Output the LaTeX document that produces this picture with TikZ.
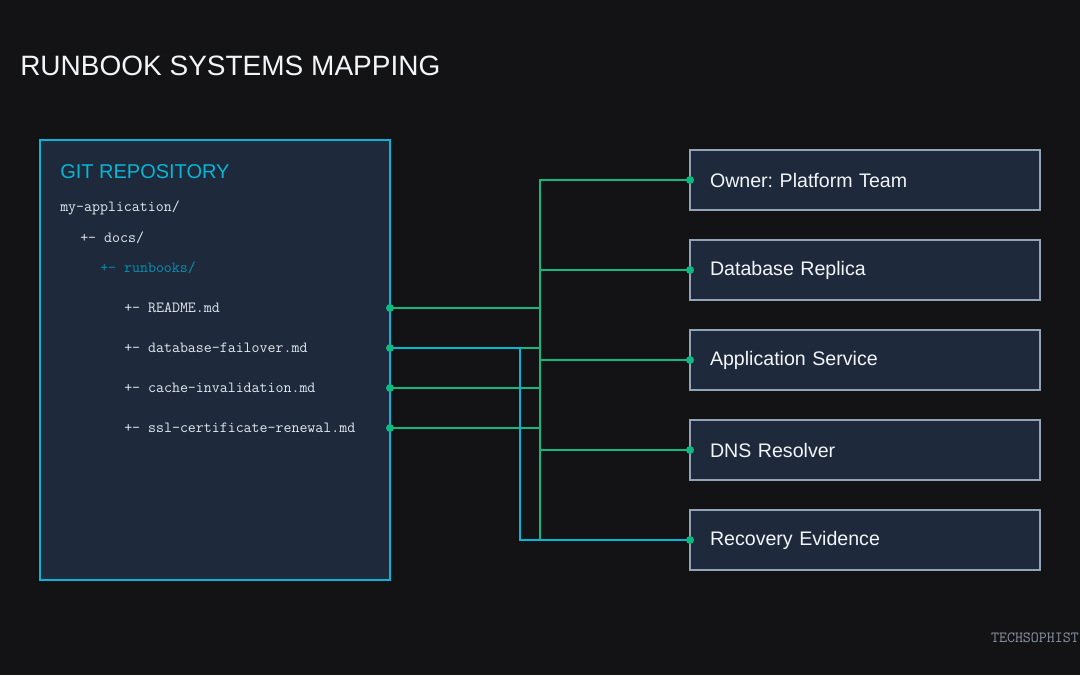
\documentclass[tikz,border=0pt]{standalone}
\usepackage{fontspec}
\setmainfont{Liberation Sans}
\usepackage{tikz}

\definecolor{bgc}{HTML}{131315}
\definecolor{panel}{HTML}{1E293B}
\definecolor{cyanc}{HTML}{06B6D4}
\definecolor{runc}{HTML}{0891B2}
\definecolor{linkc}{HTML}{10B981}
\definecolor{edgec}{HTML}{94A3B8}
\definecolor{textc}{HTML}{F1F5F9}
\definecolor{filec}{HTML}{E2E8F0}
\definecolor{markc}{HTML}{8B95A5}

\begin{document}
\frenchspacing
\begin{tikzpicture}[x=0.75pt, y=-0.75pt,
    target/.style={draw=edgec, line width=0.8pt, fill=panel, text=textc, anchor=west, outer sep=0pt,
        text width=232.5pt, inner xsep=15pt, minimum height=45pt, align=left, font=\fontsize{14.7}{18}\selectfont},
    file/.style={anchor=west, inner sep=0pt, text=filec, font=\ttfamily\fontsize{11.6}{13}\selectfont},
    link/.style={linkc, line width=1.5pt},
    cyanlink/.style={cyanc, line width=1pt}]
    \fill[bgc] (0,0) rectangle (1080,675);
    \useasboundingbox (0,0) rectangle (1080,675);

    \node[anchor=west, inner sep=0pt, text=textc, font=\fontsize{21}{24}\selectfont] (title) at (20,66) {RUNBOOK SYSTEMS MAPPING};

    \node[draw=cyanc, line width=1.5pt, fill=panel, anchor=north west, outer sep=0pt,
        minimum width=262.5pt, minimum height=330pt] (repo) at (40,140) {};
    \node[anchor=west, inner sep=0pt, text=cyanc, font=\fontsize{15}{18}\selectfont] (repotitle) at (60,172) {GIT REPOSITORY};
    \node[file] (app) at (60,208) {my-application/};
    \node[file] (docs) at (80,238) {+- docs/};
    \node[file, text=runc] (runbooks) at (100,268) {+- runbooks/};
    \node[file] (readme) at (124,308) {+- README.md};
    \node[file] (dbfail) at (124,348) {+- database-failover.md};
    \node[file] (cache) at (124,388) {+- cache-invalidation.md};
    \node[file] (ssl) at (124,428) {+- ssl-certificate-renewal.md};

    \node[target] (owner) at (690,180) {Owner: Platform Team};
    \node[target] (replica) at (690,270) {Database Replica};
    \node[target] (appsvc) at (690,360) {Application Service};
    \node[target] (dns) at (690,450) {DNS Resolver};
    \node[target] (evidence) at (690,540) {Recovery Evidence};

    \coordinate (bus) at (540,0);
    \coordinate (side) at (520,0);
    \coordinate (readme-end) at (repo.east |- readme);
    \coordinate (dbfail-end) at (repo.east |- dbfail);
    \coordinate (cache-end) at (repo.east |- cache);
    \coordinate (ssl-end) at (repo.east |- ssl);

    \draw[link] (readme-end) -- (readme-end -| bus) -- (owner.west -| bus) -- (owner.west);
    \draw[link] (dbfail-end) -- (dbfail-end -| bus) -- (replica.west -| bus) -- (replica.west);
    \draw[link] (dbfail-end) -- (dbfail-end -| bus) -- (appsvc.west -| bus) -- (appsvc.west);
    \draw[link] (cache-end) -- (cache-end -| bus) -- (appsvc.west -| bus) -- (appsvc.west);
    \draw[link] (ssl-end) -- (ssl-end -| bus) -- (dns.west -| bus) -- (dns.west);
    \draw[link] (cache-end) -- (cache-end -| bus) -- (evidence.west -| bus) -- (evidence.west);
    \draw[cyanlink] (dbfail-end) -- (dbfail-end -| side) -- (evidence.west -| side) -- (evidence.west);

    \foreach \p in {readme-end, dbfail-end, cache-end, ssl-end, owner.west, replica.west, appsvc.west, dns.west, evidence.west}
        \fill[linkc] (\p) circle (3pt);

    \node[anchor=east, inner sep=0pt, text=markc, font=\ttfamily\fontsize{11.6}{13}\selectfont] (mark) at (1079,638) {TECHSOPHIST};
\end{tikzpicture}
\end{document}
